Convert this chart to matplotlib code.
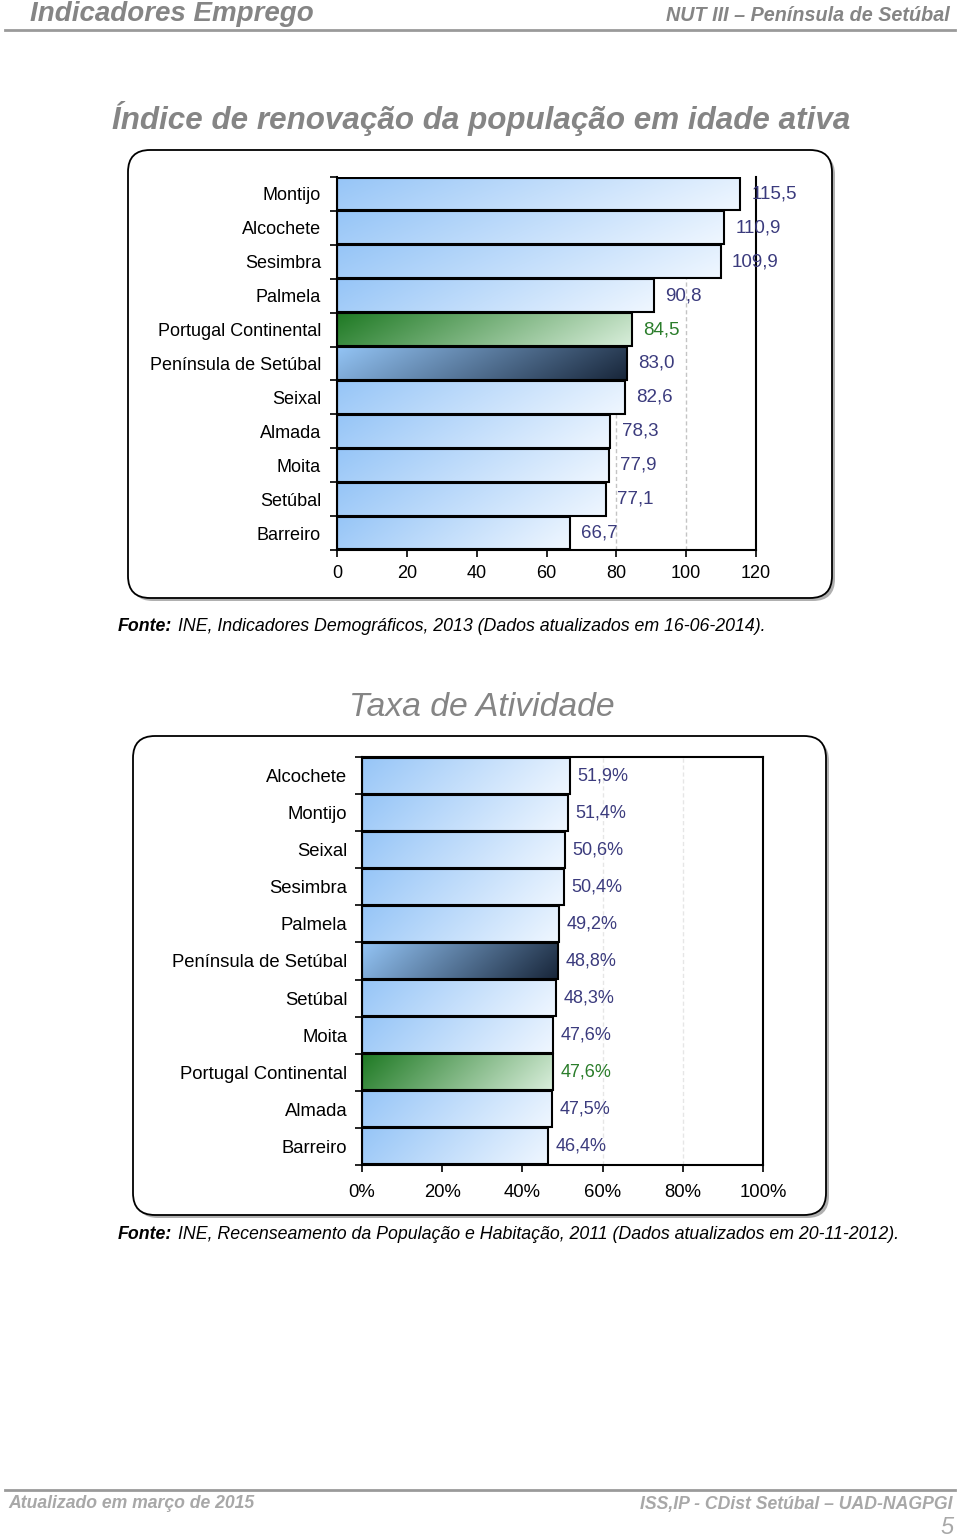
import numpy as np
import matplotlib
matplotlib.use("Agg")
import matplotlib.pyplot as plt
from matplotlib.patches import FancyBboxPatch
from matplotlib.colors import to_rgb

plt.rcParams['font.family'] = ['Liberation Sans', 'DejaVu Sans']

# Chart 1: Índice de renovação da população em idade ativa
renov_cats = ["Montijo", "Alcochete", "Sesimbra", "Palmela", "Portugal Continental",
              "Península de Setúbal", "Seixal", "Almada", "Moita", "Setúbal", "Barreiro"]
renov_vals = [115.5, 110.9, 109.9, 90.8, 84.5, 83.0, 82.6, 78.3, 77.9, 77.1, 66.7]
renov_ticks = [0, 20, 40, 60, 80, 100, 120]

# Chart 2: Taxa de Atividade (%)
ativ_cats = ["Alcochete", "Montijo", "Seixal", "Sesimbra", "Palmela", "Península de Setúbal",
             "Setúbal", "Moita", "Portugal Continental", "Almada", "Barreiro"]
ativ_vals = [51.9, 51.4, 50.6, 50.4, 49.2, 48.8, 48.3, 47.6, 47.6, 47.5, 46.4]
ativ_ticks = [0, 20, 40, 60, 80, 100]

W, H = 960, 1538
fig = plt.figure(figsize=(W / 100, H / 100), dpi=100)

GRAY = "#858585"
NAVY = "#3b3b7d"
GREEN = "#2b7d2b"

GRAD_BLUE = ("#96c5f7", "#f0f7ff")
GRAD_DARK = ("#93c4f5", "#18263a")
GRAD_GREEN = ("#1f7a24", "#d9eedb")


def px_axes(left, top, right, bottom):
    return fig.add_axes([left / W, 1 - bottom / H, (right - left) / W, (bottom - top) / H])


def gradient(c1, c2, nx=256, ny=16):
    # mostly left-to-right, a little darker towards the bottom
    a, b = np.array(to_rgb(c1)), np.array(to_rgb(c2))
    x = np.linspace(0, 1, nx)[None, :]
    y = np.linspace(0, 1, ny)[:, None]
    t = np.clip(0.85 * x + 0.15 * y, 0, 1)[:, :, None]
    return a + (b - a) * t


def frame(left, top, right, bottom):
    shadow = FancyBboxPatch((left + 3, H - bottom - 3), right - left, bottom - top,
                            boxstyle="round,pad=0,rounding_size=22", transform=None,
                            facecolor="#b0b0b0", edgecolor="none", zorder=-3)
    box = FancyBboxPatch((left, H - bottom), right - left, bottom - top,
                         boxstyle="round,pad=0,rounding_size=22", transform=None,
                         facecolor="white", edgecolor="black", linewidth=1.3, zorder=-2)
    fig.patches.extend([shadow, box])


def bar_chart(ax, cats, vals, xmax, ticks, fmt, top_spine, cat_size, val_size,
              val_off, ypad, xpad, grid_color):
    n = len(cats)
    ys = np.arange(n)[::-1]
    h = 0.97
    for y, v, c in zip(ys, vals, cats):
        if c == "Portugal Continental":
            g, lc = GRAD_GREEN, GREEN
        elif c == "Península de Setúbal":
            g, lc = GRAD_DARK, NAVY
        else:
            g, lc = GRAD_BLUE, NAVY
        ax.imshow(gradient(*g), extent=[0, v, y - h / 2, y + h / 2], aspect="auto",
                  interpolation="bilinear", zorder=2)
        ax.barh(y, v, height=h, facecolor="none", edgecolor="black", linewidth=1.5, zorder=3)
        ax.annotate(fmt(v), (v, y), xytext=(val_off, 0), textcoords="offset points",
                    va="center", ha="left", fontsize=val_size, color=lc, zorder=4)
    ax.set_xlim(0, xmax)
    ax.set_ylim(-0.5, n - 0.5)
    ax.set_xticks(ticks)
    ax.set_yticks(ys)
    ax.set_yticklabels(cats, fontsize=cat_size)
    ax.set_yticks(np.arange(n + 1) - 0.5, minor=True)
    ax.tick_params(axis="y", which="major", length=0, pad=ypad)
    ax.tick_params(axis="y", which="minor", length=5, width=1.2)
    ax.tick_params(axis="x", length=5, width=1.2, pad=xpad, labelsize=cat_size)
    ax.grid(axis="x", linestyle=(0, (3, 2)), color=grid_color, linewidth=1.0, zorder=1)
    ax.set_axisbelow(True)
    for s in ax.spines.values():
        s.set_linewidth(1.5)
    ax.spines["top"].set_visible(top_spine)
    ax.set_facecolor("none")


# header
fig.text(30 / W, 1 - 21 / H, "Indicadores Emprego", fontsize=20, fontweight="bold",
         fontstyle="italic", color=GRAY, ha="left", va="baseline")
fig.text(950 / W, 1 - 21 / H, "NUT III – Península de Setúbal", fontsize=14.2, fontweight="bold",
         fontstyle="italic", color=GRAY, ha="right", va="baseline")
fig.add_artist(plt.Line2D([5 / W, 955 / W], [1 - 30 / H, 1 - 30 / H], color="#9a9a9a", lw=2))

# chart 1
fig.text(481 / W, 1 - 119 / H, "Índice de renovação da população em idade ativa", fontsize=22.6,
         fontweight="bold", fontstyle="italic", color=GRAY, ha="center", va="center")
frame(128, 150, 832, 598)
ax1 = px_axes(337, 177, 756, 550)
bar_chart(ax1, renov_cats, renov_vals, 120, renov_ticks,
          lambda v: f"{v:.1f}".replace(".", ","), top_spine=False,
          cat_size=13, val_size=13.5, val_off=8, ypad=11.5, xpad=6, grid_color="#c4c4c4")
ax1.set_xticklabels([str(t) for t in renov_ticks])

renderer = fig.canvas.get_renderer()


def source(y, rest):
    t = fig.text(118 / W, 1 - y / H, "Fonte:", fontsize=12.8, fontweight="bold",
                 fontstyle="italic", ha="left", va="baseline")
    bb = t.get_window_extent(renderer)
    fig.text((bb.x1 + 6) / W, 1 - y / H, rest, fontsize=12.8, fontstyle="italic",
             ha="left", va="baseline")


source(631, "INE, Indicadores Demográficos, 2013 (Dados atualizados em 16-06-2014).")

# chart 2
fig.text(482 / W, 1 - 707 / H, "Taxa de Atividade", fontsize=24.3, fontstyle="italic",
         color=GRAY, ha="center", va="center")
frame(133, 736, 826, 1215)
ax2 = px_axes(362, 757, 763, 1165)
bar_chart(ax2, ativ_cats, ativ_vals, 100, ativ_ticks,
          lambda v: f"{v:.1f}%".replace(".", ","), top_spine=True,
          cat_size=13.3, val_size=13, val_off=5.5, ypad=10.5, xpad=9, grid_color="#e6e6e6")
ax2.set_xticklabels([f"{t}%" for t in ativ_ticks])

source(1239, "INE, Recenseamento da População e Habitação, 2011 (Dados atualizados em 20-11-2012).")

# footer
fig.add_artist(plt.Line2D([5 / W, 955 / W], [1 - 1490 / H, 1 - 1490 / H], color="#9a9a9a", lw=2))
fig.text(8 / W, 1 - 1504 / H, "Atualizado em março de 2015", fontsize=12.7, fontweight="bold",
         fontstyle="italic", color="#a8a8a8", ha="left", va="center")
fig.text(952 / W, 1 - 1504 / H, "ISS,IP - CDist Setúbal – UAD-NAGPGI", fontsize=12.7,
         fontweight="bold", fontstyle="italic", color="#a8a8a8", ha="right", va="center")
fig.text(954 / W, 1 - 1527 / H, "5", fontsize=17, fontstyle="italic", color="#a8a8a8",
         ha="right", va="center")

fig.savefig("out.png", dpi=100)
